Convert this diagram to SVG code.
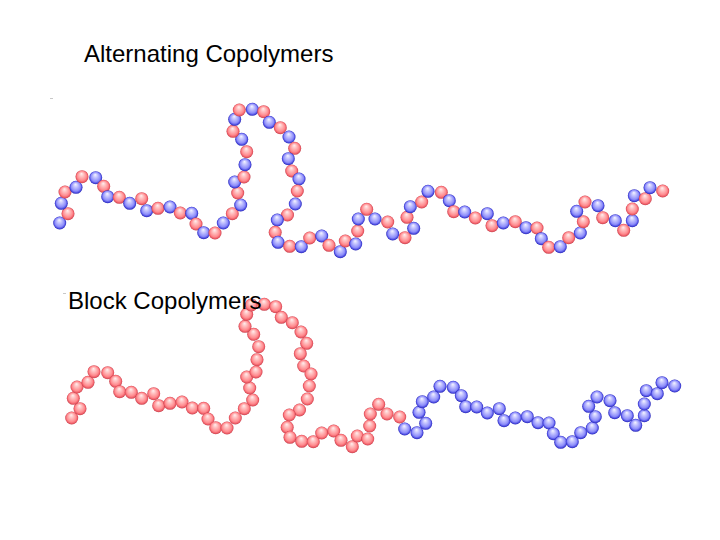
<svg xmlns="http://www.w3.org/2000/svg" width="720" height="540" viewBox="0 0 720 540">
<style>
text{font-family:"Liberation Sans",Arial,sans-serif;font-size:24px;fill:#000}
circle{r:6.5px}
.r{fill:url(#gr)}
.b{fill:url(#gb)}
.tick{fill:#c8c8c8}
</style>
<defs>
<radialGradient id="gr" cx="0.5" cy="0.5" r="0.5" fx="0.46" fy="0.26">
<stop offset="0" stop-color="#fff0f0"/><stop offset="0.3" stop-color="#ffc4c4"/><stop offset="0.72" stop-color="#ff8a8e"/><stop offset="0.88" stop-color="#f0606a"/><stop offset="1" stop-color="#c4404c"/>
</radialGradient>
<radialGradient id="gb" cx="0.5" cy="0.5" r="0.5" fx="0.46" fy="0.26">
<stop offset="0" stop-color="#f6f6ff"/><stop offset="0.3" stop-color="#c8c8ff"/><stop offset="0.72" stop-color="#8c8cfa"/><stop offset="0.88" stop-color="#5252e4"/><stop offset="1" stop-color="#2424b4"/>
</radialGradient>
</defs>
<rect width="720" height="540" fill="#fff"/>
<rect class="tick" x="50" y="98" width="3" height="1"/>
<rect class="tick" x="63" y="293" width="3" height="1"/>
<g id="alternating">
<circle class="b" cx="59.7" cy="223"/><circle class="r" cx="68" cy="213.7"/><circle class="b" cx="61.3" cy="203.3"/><circle class="r" cx="65" cy="192"/><circle class="b" cx="76" cy="187.3"/><circle class="r" cx="82" cy="176.7"/><circle class="b" cx="95.7" cy="177.7"/><circle class="r" cx="103.7" cy="186.3"/><circle class="b" cx="107.7" cy="196.7"/><circle class="r" cx="119.3" cy="197.3"/><circle class="b" cx="129.7" cy="203.3"/><circle class="r" cx="141.7" cy="198.7"/><circle class="b" cx="146.7" cy="210.7"/><circle class="r" cx="158" cy="208.3"/><circle class="b" cx="170" cy="207"/><circle class="r" cx="180.3" cy="213"/><circle class="b" cx="191.7" cy="213.3"/><circle class="r" cx="196" cy="224"/><circle class="b" cx="203.7" cy="232.7"/><circle class="r" cx="215" cy="233"/><circle class="b" cx="223.3" cy="223"/><circle class="r" cx="232.3" cy="213.7"/><circle class="b" cx="240.7" cy="205"/><circle class="r" cx="237.7" cy="193"/><circle class="b" cx="234.7" cy="182"/><circle class="r" cx="244" cy="177"/><circle class="b" cx="245" cy="164.7"/><circle class="r" cx="246.7" cy="151.7"/><circle class="b" cx="241.7" cy="139.3"/><circle class="r" cx="233" cy="131.3"/><circle class="b" cx="234.7" cy="119.3"/><circle class="r" cx="239.3" cy="110"/><circle class="b" cx="252.3" cy="109.3"/><circle class="r" cx="263.7" cy="111.7"/><circle class="b" cx="269.3" cy="122.3"/><circle class="r" cx="280.3" cy="127.7"/><circle class="b" cx="289" cy="137"/><circle class="r" cx="294.7" cy="148.3"/><circle class="b" cx="288.3" cy="158.7"/><circle class="r" cx="291.7" cy="171"/><circle class="b" cx="299" cy="179"/><circle class="r" cx="297.3" cy="191"/><circle class="b" cx="295.3" cy="204"/><circle class="r" cx="287.5" cy="215"/><circle class="b" cx="277.3" cy="220"/><circle class="r" cx="275.2" cy="232.3"/><circle class="b" cx="278" cy="242.3"/><circle class="r" cx="289.7" cy="246.3"/><circle class="b" cx="301.3" cy="246.7"/><circle class="r" cx="309.7" cy="238"/><circle class="b" cx="321.7" cy="236"/><circle class="r" cx="329" cy="245.3"/><circle class="b" cx="340.3" cy="251.7"/><circle class="r" cx="345.3" cy="241"/><circle class="b" cx="355.7" cy="244"/><circle class="r" cx="357.7" cy="231"/><circle class="b" cx="358.3" cy="219"/><circle class="r" cx="366.7" cy="209.3"/><circle class="b" cx="375" cy="219"/><circle class="r" cx="387.7" cy="222"/><circle class="b" cx="392.7" cy="234"/><circle class="r" cx="405" cy="237.7"/><circle class="b" cx="413.7" cy="228.3"/><circle class="r" cx="407" cy="217.3"/><circle class="b" cx="410.3" cy="206.7"/><circle class="r" cx="421.7" cy="202"/><circle class="b" cx="428" cy="191.3"/><circle class="r" cx="441.3" cy="192.3"/><circle class="b" cx="449.3" cy="200.7"/><circle class="r" cx="453.7" cy="211.7"/><circle class="b" cx="464.7" cy="212"/><circle class="r" cx="475.3" cy="218"/><circle class="b" cx="487.3" cy="213.7"/><circle class="r" cx="492" cy="225.7"/><circle class="b" cx="503.3" cy="223"/><circle class="r" cx="515.3" cy="221.7"/><circle class="b" cx="526" cy="227.7"/><circle class="r" cx="537" cy="228"/><circle class="b" cx="541.3" cy="238.7"/><circle class="r" cx="548.7" cy="247.3"/><circle class="b" cx="560.3" cy="246.7"/><circle class="r" cx="568.7" cy="237.7"/><circle class="b" cx="580.3" cy="233"/><circle class="r" cx="583.3" cy="221.7"/><circle class="b" cx="576.7" cy="211.3"/><circle class="r" cx="585" cy="202"/><circle class="b" cx="598" cy="205.7"/><circle class="r" cx="602.7" cy="217.7"/><circle class="b" cx="615.3" cy="220.7"/><circle class="r" cx="623.7" cy="230.3"/><circle class="b" cx="632.3" cy="220.7"/><circle class="r" cx="632.3" cy="209"/><circle class="b" cx="634.3" cy="195.7"/><circle class="r" cx="645.3" cy="198.7"/><circle class="b" cx="650" cy="187.7"/><circle class="r" cx="662.7" cy="191"/>
</g>
<g id="block">
<circle class="r" cx="71.7" cy="418"/><circle class="r" cx="80" cy="408.7"/><circle class="r" cx="73.3" cy="398.3"/><circle class="r" cx="77" cy="387"/><circle class="r" cx="88" cy="382.3"/><circle class="r" cx="94" cy="371.7"/><circle class="r" cx="107.7" cy="372.7"/><circle class="r" cx="115.7" cy="381.3"/><circle class="r" cx="119.7" cy="391.7"/><circle class="r" cx="131.3" cy="392.3"/><circle class="r" cx="141.7" cy="398.3"/><circle class="r" cx="153.7" cy="393.7"/><circle class="r" cx="158.7" cy="405.7"/><circle class="r" cx="170" cy="403.3"/><circle class="r" cx="182" cy="402"/><circle class="r" cx="192.3" cy="408"/><circle class="r" cx="203.7" cy="408.3"/><circle class="r" cx="208" cy="419"/><circle class="r" cx="215.7" cy="427.7"/><circle class="r" cx="227" cy="428"/><circle class="r" cx="235.3" cy="418"/><circle class="r" cx="244.3" cy="408.7"/><circle class="r" cx="252.7" cy="400"/><circle class="r" cx="249.7" cy="388"/><circle class="r" cx="246.7" cy="377"/><circle class="r" cx="256" cy="372"/><circle class="r" cx="257" cy="359.7"/><circle class="r" cx="258.7" cy="346.7"/><circle class="r" cx="253.7" cy="334.3"/><circle class="r" cx="245" cy="326.3"/><circle class="r" cx="246.7" cy="314.3"/><circle class="r" cx="251.3" cy="305"/><circle class="r" cx="264.3" cy="304.3"/><circle class="r" cx="275.7" cy="306.7"/><circle class="r" cx="281.3" cy="317.3"/><circle class="r" cx="292.3" cy="322.7"/><circle class="r" cx="301" cy="332"/><circle class="r" cx="306.7" cy="343.3"/><circle class="r" cx="300.3" cy="353.7"/><circle class="r" cx="303.7" cy="366"/><circle class="r" cx="311" cy="374"/><circle class="r" cx="309.3" cy="386"/><circle class="r" cx="307.3" cy="399"/><circle class="r" cx="299.5" cy="410"/><circle class="r" cx="289.3" cy="415"/><circle class="r" cx="287.2" cy="427.3"/><circle class="r" cx="290" cy="437.3"/><circle class="r" cx="301.7" cy="441.3"/><circle class="r" cx="313.3" cy="441.7"/><circle class="r" cx="321.7" cy="433"/><circle class="r" cx="333.7" cy="431"/><circle class="r" cx="341" cy="440.3"/><circle class="r" cx="352.3" cy="446.7"/><circle class="r" cx="357.3" cy="436"/><circle class="r" cx="367.7" cy="439"/><circle class="r" cx="369.7" cy="426"/><circle class="r" cx="370.3" cy="414"/><circle class="r" cx="378.7" cy="404.3"/><circle class="r" cx="387" cy="414"/><circle class="r" cx="399.7" cy="417"/><circle class="b" cx="404.7" cy="429"/><circle class="b" cx="417" cy="432.7"/><circle class="b" cx="425.7" cy="423.3"/><circle class="b" cx="419" cy="412.3"/><circle class="b" cx="422.3" cy="401.7"/><circle class="b" cx="433.7" cy="397"/><circle class="b" cx="440" cy="386.3"/><circle class="b" cx="453.3" cy="387.3"/><circle class="b" cx="461.3" cy="395.7"/><circle class="b" cx="465.7" cy="406.7"/><circle class="b" cx="476.7" cy="407"/><circle class="b" cx="487.3" cy="413"/><circle class="b" cx="499.3" cy="408.7"/><circle class="b" cx="504" cy="420.7"/><circle class="b" cx="515.3" cy="418"/><circle class="b" cx="527.3" cy="416.7"/><circle class="b" cx="538" cy="422.7"/><circle class="b" cx="549" cy="423"/><circle class="b" cx="553.3" cy="433.7"/><circle class="b" cx="560.7" cy="442.3"/><circle class="b" cx="572.3" cy="441.7"/><circle class="b" cx="580.7" cy="432.7"/><circle class="b" cx="592.3" cy="428"/><circle class="b" cx="595.3" cy="416.7"/><circle class="b" cx="588.7" cy="406.3"/><circle class="b" cx="597" cy="397"/><circle class="b" cx="610" cy="400.7"/><circle class="b" cx="614.7" cy="412.7"/><circle class="b" cx="627.3" cy="415.7"/><circle class="b" cx="635.7" cy="425.3"/><circle class="b" cx="644.3" cy="415.7"/><circle class="b" cx="644.3" cy="404"/><circle class="b" cx="646.3" cy="390.7"/><circle class="b" cx="657.3" cy="393.7"/><circle class="b" cx="662" cy="382.7"/><circle class="b" cx="674.7" cy="386"/>
</g>
<text x="84" y="62">Alternating Copolymers</text>
<text x="68" y="309">Block Copolymers</text>
</svg>
